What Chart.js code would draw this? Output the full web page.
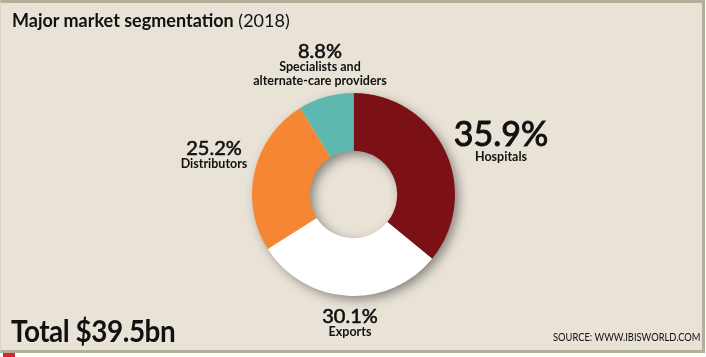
<!DOCTYPE html>
<html>
<head>
<meta charset="utf-8">
<script src="https://cdn.jsdelivr.net/npm/chart.js@4/dist/chart.umd.min.js"></script>
<style>
  html, body { margin:0; padding:0; background:#ffffff; }
  #wrap { position:relative; width:706px; height:357px; overflow:hidden; background:#ffffff; font-family:Lato, "Open Sans", sans-serif; color:#111; }
  #panel { position:absolute; left:0; top:0; background:#e9e3d7; border-top:3px solid #b4af9a; border-right:3px solid #b4af9a; border-bottom:3px solid #b4af9a; border-left:1px solid #d9d4c6; box-sizing:border-box; width:705px; height:353px; }
  #chartBox { position:absolute; left:0; top:0; width:706px; height:357px; }
  .t { position:absolute; white-space:nowrap; line-height:1; }
  #title { left:12px; top:11px; font-size:18px; }
  #title b { font-weight:700; }
  #total { left:11px; top:315px; font-size:30px; font-weight:700; letter-spacing:-0.5px; transform:scaleX(0.93); transform-origin:left top; }
  #source { left:553px; top:331px; font-size:11px; transform:scaleX(0.85); transform-origin:left top; }
  .lab { position:absolute; text-align:center; white-space:nowrap; transform:translateX(-50%); }
  .lab .p { font-size:20px; font-weight:400; line-height:20px; -webkit-text-stroke:0.6px #111; }
  .lab .n { font-size:12.5px; font-weight:700; line-height:14px; }
  #icon { position:absolute; left:3px; top:353px; width:12px; height:5px; background:#d9262e; }
</style>
</head>
<body>
<div id="wrap">
  <div id="panel"></div>
  <div id="chartBox"><canvas id="c" width="706" height="357"></canvas></div>
  <div class="t" id="title"><b>Major market segmentation</b> (2018)</div>
  <div class="t" id="total">Total $39.5bn</div>
  <div class="t" id="source">SOURCE: WWW.IBISWORLD.COM</div>
  <div id="labels"></div>
  <div id="icon"></div>
</div>
<script>
const categories = ["Hospitals", "Exports", "Distributors", "Specialists and\nalternate-care providers"];
const shares = [35.9, 30.1, 25.2, 8.8];
const colors = ["#7b1116", "#ffffff", "#f58634", "#5fb8b0"];

// label block layout (centre x, top y) and percent font sizes
const labelLayout = [
  { x: 501, y: 116, size: 34, stroke: 1 },
  { x: 350, y: 305, size: 20, stroke: 0.6 },
  { x: 214, y: 137, size: 20, stroke: 0.6 },
  { x: 320, y: 40, size: 20, stroke: 0.6 }
];

const labelsDiv = document.getElementById('labels');
categories.forEach((cat, i) => {
  const d = document.createElement('div');
  d.className = 'lab';
  d.style.left = labelLayout[i].x + 'px';
  d.style.top = labelLayout[i].y + 'px';
  const p = document.createElement('div');
  p.className = 'p';
  p.style.fontSize = labelLayout[i].size + 'px';
  p.style.lineHeight = (labelLayout[i].size) + 'px';
  p.style.webkitTextStroke = labelLayout[i].stroke + 'px #111';
  p.textContent = shares[i].toFixed(1) + '%';
  d.appendChild(p);
  cat.split('\n').forEach(line => {
    const n = document.createElement('div');
    n.className = 'n';
    n.textContent = line;
    d.appendChild(n);
  });
  labelsDiv.appendChild(d);
});

const ringShadow = {
  id: 'ringShadow',
  beforeDatasetsDraw(chart) {
    const meta = chart.getDatasetMeta(0);
    if (!meta.data.length) return;
    const a = meta.data[0];
    const ctx = chart.ctx;
    ctx.save();
    ctx.shadowColor = 'rgba(0,0,0,0.45)';
    ctx.shadowBlur = 12;
    ctx.shadowOffsetX = 4;
    ctx.shadowOffsetY = 4;
    ctx.fillStyle = '#e9e3d7';
    ctx.beginPath();
    ctx.arc(a.x, a.y, a.outerRadius - 1, 0, Math.PI * 2);
    ctx.arc(a.x, a.y, a.innerRadius + 1, 0, Math.PI * 2, true);
    ctx.closePath();
    ctx.fill();
    ctx.restore();
  }
};

new Chart(document.getElementById('c'), {
  type: 'doughnut',
  data: {
    labels: categories,
    datasets: [{
      data: shares,
      backgroundColor: colors,
      borderWidth: 0,
      hoverOffset: 0
    }]
  },
  options: {
    responsive: false,
    animation: false,
    cutout: '43%',
    rotation: 0,
    layout: { padding: { left: 252, right: 251, top: 93, bottom: 61 } },
    plugins: { legend: { display: false }, tooltip: { enabled: false } }
  },
  plugins: [ringShadow]
});
</script>
</body>
</html>
